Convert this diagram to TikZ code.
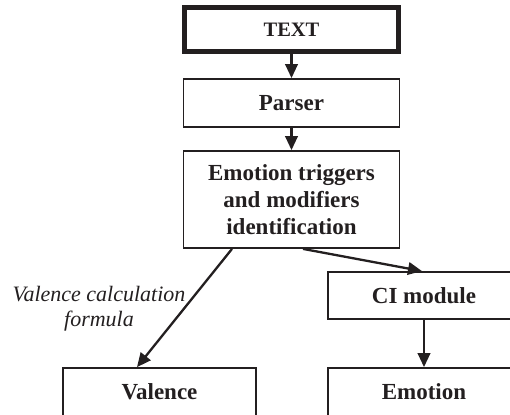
\documentclass[tikz,border=0pt]{standalone}
\usepackage{fontspec}
\setmainfont{Liberation Serif}
\usetikzlibrary{arrows.meta}
\definecolor{ink}{HTML}{231F20}
\begin{document}
\begin{tikzpicture}[x=1pt,y=-1pt,
  box/.style={draw=ink, line width=1.8pt, rectangle, inner sep=0pt,
    text=ink, font=\fontsize{23}{27}\selectfont\bfseries, align=center},
  heavybox/.style={box, line width=4.5pt},
  flow/.style={draw=ink, line width=2.3pt, -{Triangle[length=14pt,width=12.5pt]}},
  note/.style={text=ink, font=\fontsize{22}{25}\selectfont\itshape, align=center}]
  \useasboundingbox (0,0) rectangle (510,414);
  \clip (0,0) rectangle (510,414);

  % processing chain
  \node[heavybox, minimum width=214pt, minimum height=44pt,
    font=\fontsize{20.5}{24}\selectfont\bfseries] (txt) at (291.5,29.5) {TEXT};
  \node[box, minimum width=216pt, minimum height=48pt] (parser) at (291.5,103) {Parser};
  \node[box, minimum width=216pt, minimum height=97pt] (ident) at (291.5,199.5)
    {Emotion triggers\\and modifiers\\identification};
  \node[box, minimum width=192pt, minimum height=47pt] (ci) at (424,295.5) {CI module};
  \node[box, minimum width=193pt, minimum height=48pt] (val) at (159.5,392) {Valence};
  \node[box, minimum width=192pt, minimum height=48pt] (emo) at (424,392) {Emotion};

  % connectors
  \draw[flow] (txt.south) -- (parser.north);
  \draw[flow] (parser.south) -- (ident.north);
  \draw[flow] ([xshift=-59.5pt]ident.south) -- ([xshift=-22.5pt]val.north);
  \draw[flow] ([xshift=11.5pt]ident.south) -- ([xshift=-2pt]ci.north);
  \draw[flow] (ci.south) -- (emo.north);

  \node[note] (formula) at (99,309) {Valence calculation\\formula};
\end{tikzpicture}
\end{document}
